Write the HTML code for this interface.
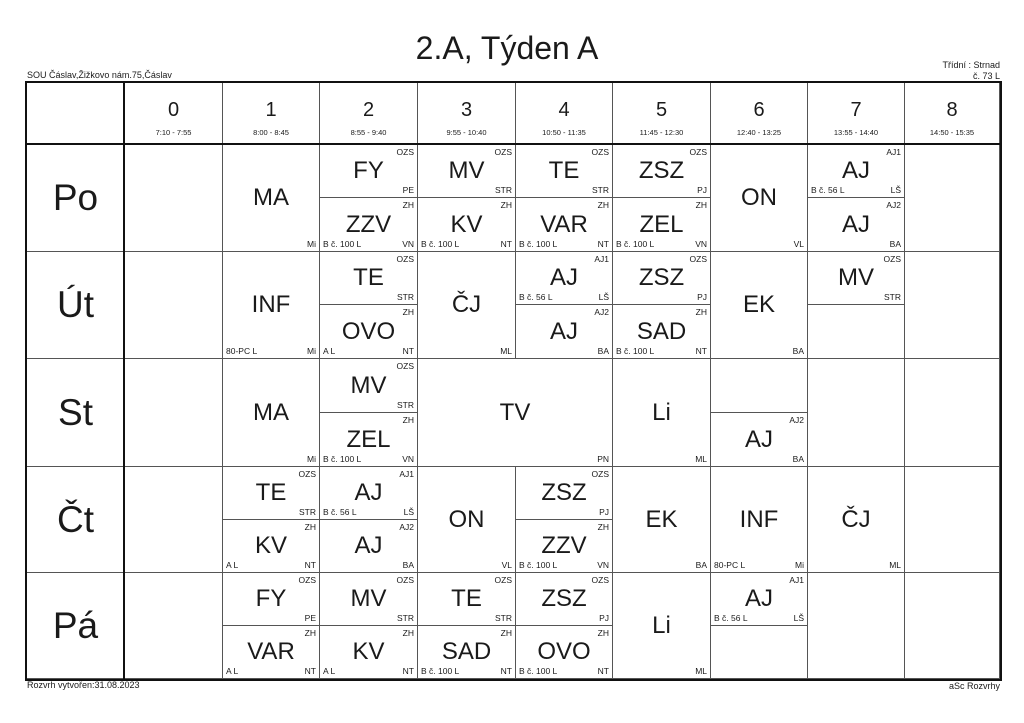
<!DOCTYPE html>
<html><head><meta charset="utf-8"><style>
body{margin:0;width:1024px;height:723px;background:#fff;position:relative;font-family:"Liberation Sans",sans-serif;color:#1a1a1a;overflow:hidden}
.a{position:absolute;white-space:nowrap}
.c{position:absolute;box-sizing:border-box;border:1px solid #555;display:flex;align-items:center;justify-content:center}
.s{font-size:24px;line-height:1}
.g{position:absolute;top:2px;right:3px;font-size:8.5px}
.t{position:absolute;bottom:2px;right:3px;font-size:8.5px}
.r{position:absolute;bottom:2px;left:3px;font-size:8.5px}
.d{font-size:37px}
.h{flex-direction:column}
.h b{font-weight:normal;font-size:20px;margin-top:10px;line-height:1}
.h i{font-style:normal;font-size:7.5px;margin-top:8px}
</style></head><body>
<div class="a" style="left:0;width:1014px;top:30px;text-align:center;font-size:32px">2.A, Týden A</div>
<div class="a" style="left:27px;top:70px;font-size:9px">SOU Čáslav,Žižkovo nám.75,Čáslav</div>
<div class="a" style="right:24px;top:60px;font-size:9px;text-align:right;line-height:11px">Třídní : Strnad<br>č. 73 L</div>
<div class="a" style="left:27px;top:680px;font-size:9px">Rozvrh vytvořen:31.08.2023</div>
<div class="a" style="right:24px;top:681px;font-size:9px">aSc Rozvrhy</div>

<!-- header -->
<div class="c" style="left:26px;top:82px;width:99px;height:63px"></div>
<div class="c h" style="left:124px;top:82px;width:99px;height:63px"><b>0</b><i>7:10 - 7:55</i></div>
<div class="c h" style="left:222px;top:82px;width:98px;height:63px"><b>1</b><i>8:00 - 8:45</i></div>
<div class="c h" style="left:319px;top:82px;width:99px;height:63px"><b>2</b><i>8:55 - 9:40</i></div>
<div class="c h" style="left:417px;top:82px;width:99px;height:63px"><b>3</b><i>9:55 - 10:40</i></div>
<div class="c h" style="left:515px;top:82px;width:98px;height:63px"><b>4</b><i>10:50 - 11:35</i></div>
<div class="c h" style="left:612px;top:82px;width:99px;height:63px"><b>5</b><i>11:45 - 12:30</i></div>
<div class="c h" style="left:710px;top:82px;width:98px;height:63px"><b>6</b><i>12:40 - 13:25</i></div>
<div class="c h" style="left:807px;top:82px;width:98px;height:63px"><b>7</b><i>13:55 - 14:40</i></div>
<div class="c h" style="left:904px;top:82px;width:96px;height:63px"><b>8</b><i>14:50 - 15:35</i></div>

<!-- day labels -->
<div class="c d" style="left:26px;top:144px;width:99px;height:108px">Po</div>
<div class="c d" style="left:26px;top:251px;width:99px;height:108px">Út</div>
<div class="c d" style="left:26px;top:358px;width:99px;height:109px">St</div>
<div class="c d" style="left:26px;top:466px;width:99px;height:107px">Čt</div>
<div class="c d" style="left:26px;top:572px;width:99px;height:107px">Pá</div>

<!-- col 0 empty -->
<div class="c" style="left:124px;top:144px;width:99px;height:108px"></div>
<div class="c" style="left:124px;top:251px;width:99px;height:108px"></div>
<div class="c" style="left:124px;top:358px;width:99px;height:109px"></div>
<div class="c" style="left:124px;top:466px;width:99px;height:107px"></div>
<div class="c" style="left:124px;top:572px;width:99px;height:107px"></div>
<!-- col 8 empty -->
<div class="c" style="left:904px;top:144px;width:96px;height:108px"></div>
<div class="c" style="left:904px;top:251px;width:96px;height:108px"></div>
<div class="c" style="left:904px;top:358px;width:96px;height:109px"></div>
<div class="c" style="left:904px;top:466px;width:96px;height:107px"></div>
<div class="c" style="left:904px;top:572px;width:96px;height:107px"></div>

<!-- Po -->
<div class="c" style="left:222px;top:144px;width:98px;height:108px"><span class="s">MA</span><span class="t">Mi</span></div>
<div class="c" style="left:319px;top:144px;width:99px;height:54px"><span class="s">FY</span><span class="g">OZS</span><span class="t">PE</span></div>
<div class="c" style="left:319px;top:197px;width:99px;height:55px"><span class="s">ZZV</span><span class="g">ZH</span><span class="t">VN</span><span class="r">B č. 100 L</span></div>
<div class="c" style="left:417px;top:144px;width:99px;height:54px"><span class="s">MV</span><span class="g">OZS</span><span class="t">STR</span></div>
<div class="c" style="left:417px;top:197px;width:99px;height:55px"><span class="s">KV</span><span class="g">ZH</span><span class="t">NT</span><span class="r">B č. 100 L</span></div>
<div class="c" style="left:515px;top:144px;width:98px;height:54px"><span class="s">TE</span><span class="g">OZS</span><span class="t">STR</span></div>
<div class="c" style="left:515px;top:197px;width:98px;height:55px"><span class="s">VAR</span><span class="g">ZH</span><span class="t">NT</span><span class="r">B č. 100 L</span></div>
<div class="c" style="left:612px;top:144px;width:99px;height:54px"><span class="s">ZSZ</span><span class="g">OZS</span><span class="t">PJ</span></div>
<div class="c" style="left:612px;top:197px;width:99px;height:55px"><span class="s">ZEL</span><span class="g">ZH</span><span class="t">VN</span><span class="r">B č. 100 L</span></div>
<div class="c" style="left:710px;top:144px;width:98px;height:108px"><span class="s">ON</span><span class="t">VL</span></div>
<div class="c" style="left:807px;top:144px;width:98px;height:54px"><span class="s">AJ</span><span class="g">AJ1</span><span class="t">LŠ</span><span class="r">B č. 56 L</span></div>
<div class="c" style="left:807px;top:197px;width:98px;height:55px"><span class="s">AJ</span><span class="g">AJ2</span><span class="t">BA</span></div>

<!-- Út -->
<div class="c" style="left:222px;top:251px;width:98px;height:108px"><span class="s">INF</span><span class="t">Mi</span><span class="r">80-PC L</span></div>
<div class="c" style="left:319px;top:251px;width:99px;height:54px"><span class="s">TE</span><span class="g">OZS</span><span class="t">STR</span></div>
<div class="c" style="left:319px;top:304px;width:99px;height:55px"><span class="s">OVO</span><span class="g">ZH</span><span class="t">NT</span><span class="r">A L</span></div>
<div class="c" style="left:417px;top:251px;width:99px;height:108px"><span class="s">ČJ</span><span class="t">ML</span></div>
<div class="c" style="left:515px;top:251px;width:98px;height:54px"><span class="s">AJ</span><span class="g">AJ1</span><span class="t">LŠ</span><span class="r">B č. 56 L</span></div>
<div class="c" style="left:515px;top:304px;width:98px;height:55px"><span class="s">AJ</span><span class="g">AJ2</span><span class="t">BA</span></div>
<div class="c" style="left:612px;top:251px;width:99px;height:54px"><span class="s">ZSZ</span><span class="g">OZS</span><span class="t">PJ</span></div>
<div class="c" style="left:612px;top:304px;width:99px;height:55px"><span class="s">SAD</span><span class="g">ZH</span><span class="t">NT</span><span class="r">B č. 100 L</span></div>
<div class="c" style="left:710px;top:251px;width:98px;height:108px"><span class="s">EK</span><span class="t">BA</span></div>
<div class="c" style="left:807px;top:251px;width:98px;height:54px"><span class="s">MV</span><span class="g">OZS</span><span class="t">STR</span></div>
<div class="c" style="left:807px;top:304px;width:98px;height:55px"></div>

<!-- St -->
<div class="c" style="left:222px;top:358px;width:98px;height:109px"><span class="s">MA</span><span class="t">Mi</span></div>
<div class="c" style="left:319px;top:358px;width:99px;height:55px"><span class="s">MV</span><span class="g">OZS</span><span class="t">STR</span></div>
<div class="c" style="left:319px;top:412px;width:99px;height:55px"><span class="s">ZEL</span><span class="g">ZH</span><span class="t">VN</span><span class="r">B č. 100 L</span></div>
<div class="c" style="left:417px;top:358px;width:196px;height:109px"><span class="s">TV</span><span class="t">PN</span></div>
<div class="c" style="left:612px;top:358px;width:99px;height:109px"><span class="s">Li</span><span class="t">ML</span></div>
<div class="c" style="left:710px;top:358px;width:98px;height:55px"></div>
<div class="c" style="left:710px;top:412px;width:98px;height:55px"><span class="s">AJ</span><span class="g">AJ2</span><span class="t">BA</span></div>
<div class="c" style="left:807px;top:358px;width:98px;height:109px"></div>

<!-- Čt -->
<div class="c" style="left:222px;top:466px;width:98px;height:54px"><span class="s">TE</span><span class="g">OZS</span><span class="t">STR</span></div>
<div class="c" style="left:222px;top:519px;width:98px;height:54px"><span class="s">KV</span><span class="g">ZH</span><span class="t">NT</span><span class="r">A L</span></div>
<div class="c" style="left:319px;top:466px;width:99px;height:54px"><span class="s">AJ</span><span class="g">AJ1</span><span class="t">LŠ</span><span class="r">B č. 56 L</span></div>
<div class="c" style="left:319px;top:519px;width:99px;height:54px"><span class="s">AJ</span><span class="g">AJ2</span><span class="t">BA</span></div>
<div class="c" style="left:417px;top:466px;width:99px;height:107px"><span class="s">ON</span><span class="t">VL</span></div>
<div class="c" style="left:515px;top:466px;width:98px;height:54px"><span class="s">ZSZ</span><span class="g">OZS</span><span class="t">PJ</span></div>
<div class="c" style="left:515px;top:519px;width:98px;height:54px"><span class="s">ZZV</span><span class="g">ZH</span><span class="t">VN</span><span class="r">B č. 100 L</span></div>
<div class="c" style="left:612px;top:466px;width:99px;height:107px"><span class="s">EK</span><span class="t">BA</span></div>
<div class="c" style="left:710px;top:466px;width:98px;height:107px"><span class="s">INF</span><span class="t">Mi</span><span class="r">80-PC L</span></div>
<div class="c" style="left:807px;top:466px;width:98px;height:107px"><span class="s">ČJ</span><span class="t">ML</span></div>

<!-- Pá -->
<div class="c" style="left:222px;top:572px;width:98px;height:54px"><span class="s">FY</span><span class="g">OZS</span><span class="t">PE</span></div>
<div class="c" style="left:222px;top:625px;width:98px;height:54px"><span class="s">VAR</span><span class="g">ZH</span><span class="t">NT</span><span class="r">A L</span></div>
<div class="c" style="left:319px;top:572px;width:99px;height:54px"><span class="s">MV</span><span class="g">OZS</span><span class="t">STR</span></div>
<div class="c" style="left:319px;top:625px;width:99px;height:54px"><span class="s">KV</span><span class="g">ZH</span><span class="t">NT</span><span class="r">A L</span></div>
<div class="c" style="left:417px;top:572px;width:99px;height:54px"><span class="s">TE</span><span class="g">OZS</span><span class="t">STR</span></div>
<div class="c" style="left:417px;top:625px;width:99px;height:54px"><span class="s">SAD</span><span class="g">ZH</span><span class="t">NT</span><span class="r">B č. 100 L</span></div>
<div class="c" style="left:515px;top:572px;width:98px;height:54px"><span class="s">ZSZ</span><span class="g">OZS</span><span class="t">PJ</span></div>
<div class="c" style="left:515px;top:625px;width:98px;height:54px"><span class="s">OVO</span><span class="g">ZH</span><span class="t">NT</span><span class="r">B č. 100 L</span></div>
<div class="c" style="left:612px;top:572px;width:99px;height:107px"><span class="s">Li</span><span class="t">ML</span></div>
<div class="c" style="left:710px;top:572px;width:98px;height:54px"><span class="s">AJ</span><span class="g">AJ1</span><span class="t">LŠ</span><span class="r">B č. 56 L</span></div>
<div class="c" style="left:710px;top:625px;width:98px;height:54px"></div>
<div class="c" style="left:807px;top:572px;width:98px;height:107px"></div>

<!-- thick lines -->
<div class="a" style="left:25px;top:81px;width:973px;height:596px;border:2px solid #111"></div>
<div class="a" style="left:25px;top:143px;width:975px;height:2px;background:#111"></div>
<div class="a" style="left:123px;top:81px;width:2px;height:598px;background:#111"></div>
</body></html>
